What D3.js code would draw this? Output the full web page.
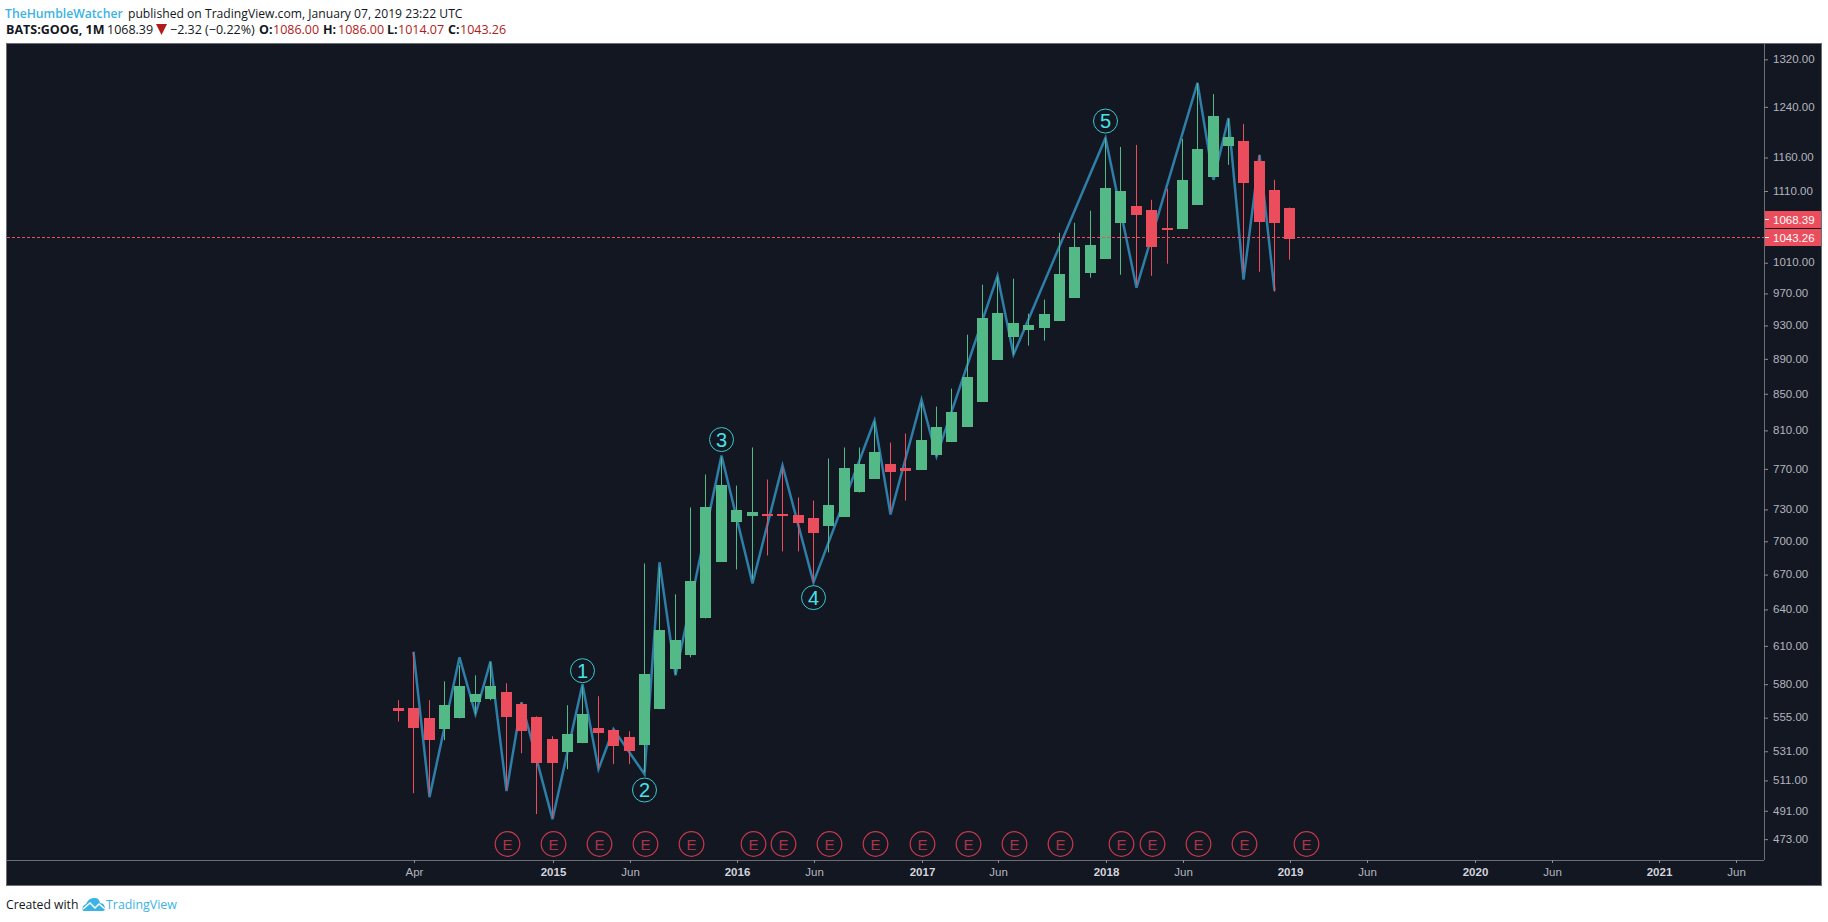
<!DOCTYPE html>
<html><head><meta charset="utf-8">
<style>
html,body{margin:0;padding:0;background:#fff}
svg{display:block}
text{font-family:"Open Sans",sans-serif}
.ax text{font-family:"Liberation Sans",Arial,sans-serif}
</style>
<script src="https://cdn.jsdelivr.net/npm/d3@7/dist/d3.min.js"></script>
</head><body><div id="c"></div>
<script>
const months=["2014-03","2014-04","2014-05","2014-06","2014-07","2014-08","2014-09","2014-10","2014-11","2014-12",
"2015-01","2015-02","2015-03","2015-04","2015-05","2015-06","2015-07","2015-08","2015-09","2015-10","2015-11","2015-12",
"2016-01","2016-02","2016-03","2016-04","2016-05","2016-06","2016-07","2016-08","2016-09","2016-10","2016-11","2016-12",
"2017-01","2017-02","2017-03","2017-04","2017-05","2017-06","2017-07","2017-08","2017-09","2017-10","2017-11","2017-12",
"2018-01","2018-02","2018-03","2018-04","2018-05","2018-06","2018-07","2018-08","2018-09","2018-10","2018-11","2018-12",
"2019-01","2019-02","2019-03","2019-04","2019-05","2019-06","2019-07","2019-08","2019-09","2019-10","2019-11","2019-12",
"2020-01","2020-02","2020-03","2020-04","2020-05","2020-06","2020-07","2020-08","2020-09","2020-10","2020-11","2020-12",
"2021-01","2021-02","2021-03","2021-04","2021-05","2021-06"];
const opens=[562,561.9,554.5,546.6,554.5,566.4,568.6,573.8,564.9,555.3,539.5,530.3,536.7,547.3,545.9,540.9,535.2,561.2,591.5,602.5,632.5,681.7,717.6,723.2,725.2,725.2,724.2,721.4,713.8,723.2,746.4,760.3,774.5,771.4,769.4,784.7,798.2,814.1,841.4,889.1,916.4,924.9,927.3,935.9,964.6,996.8,1015.3,1064.5,1088.6,1082.9,1057.6,1056.2,1090,1130.9,1177.9,1185.6,1154.9,1111.7,1086];
const highs=[567.9,604.8,567.9,582.2,594.6,586.8,597,580.7,566.4,556,541.6,564.2,578.4,570.9,546.6,545.2,679.9,676.4,652.8,731.9,764.3,781.6,753.3,792,759.3,771.4,741.6,738.6,780.6,792,792,819.5,797.1,806.7,840.3,835.8,855.8,918.8,981.2,991.6,989,944.5,962.1,1050.6,1064.5,1081.5,1190.3,1176.3,1179.4,1097.2,1113.2,1188.8,1279.6,1260.9,1220.4,1212.4,1163.9,1126.4,1086];
const lows=[552.3,502.5,501.9,538.8,554.5,557.5,567.9,505.2,529.6,488.9,486.3,518.6,536.7,519.3,522.1,522.1,516.6,561.2,587.6,600.9,632.5,681.7,674.6,665.8,687.1,690.8,690.8,663.2,689.9,723.2,746.4,760.3,728.1,738.6,769.4,782.7,798.2,814.1,841.4,889.1,895,905.6,911.6,935.9,964.6,990.3,1015.3,994.1,981.2,992.8,1008.7,1056.2,1090,1130.9,1148.8,996.8,998.1,972.3,1014.07];
const closes=[560,547.3,538.8,564.2,578.4,572.4,578.4,555.3,545.2,522.8,522.8,543,557.5,543.7,534.5,531,587.6,622.6,614.5,664.1,731.9,754.3,729,727.1,723.2,723.2,716.6,707.3,733.8,771.4,774.5,787.8,766.3,768.4,800.3,814.1,830.3,869.4,939.6,945.8,933.4,931,944.5,995.5,1031.5,1034.2,1114.6,1110.2,1075.8,1031.5,1054.8,1126.4,1173.2,1225.2,1191.9,1122,1065.9,1064.5,1043.26];
const waveMonths=["2014-04","2014-05","2014-07","2014-08","2014-09","2014-10","2014-11","2015-01","2015-03","2015-04","2015-05","2015-07","2015-08","2015-09","2015-12","2016-02","2016-04","2016-06","2016-10","2016-11","2017-01","2017-02","2017-06","2017-07","2018-01","2018-03","2018-07","2018-08","2018-09","2018-10","2018-11","2018-12"];
const waveValues=[605.3,499.9,600.9,557.5,597.7,503.9,566.4,485.6,579.9,518.6,546.6,515.2,681,586.8,783.7,662.3,773.5,663.2,820.6,725.2,843.6,782.7,992.8,895,1190.3,977.4,1279.6,1126.4,1221.7,987.7,1163.9,973.5];
const waveLabels=["1","2","3","4","5"];
const waveLabelMonths=["2015-03","2015-07","2015-12","2016-06","2018-01"];
const waveLabelPrices=[590.4,504.6,800.3,650,1217];
const earnings=["2014-10","2015-01","2015-04","2015-07","2015-10","2016-02","2016-04","2016-07","2016-10","2017-01","2017-04","2017-07","2017-10","2018-02","2018-04","2018-07","2018-10","2019-02"];
const priceTicks=[473,491,511,531,555,580,610,640,670,700,730,770,810,850,890,930,970,1010,1110,1160,1240,1320];
const timeTicks=["2014-04","2015-01","2015-06","2016-01","2016-06","2017-01","2017-06","2018-01","2018-06","2019-01","2019-06","2020-01","2020-06","2021-01","2021-06"];
const timeTickLabels=["Apr","2015","Jun","2016","Jun","2017","Jun","2018","Jun","2019","Jun","2020","Jun","2021","Jun"];
const lastPrice=1043.26, prevPrice=1068.39;

const W=1828,H=922,L=6,R=1821,T=43,B=885,AX=1764,AY=860;
const GREEN="#53b987",RED="#eb4d5c",BLUE="#3bb3e4",DARKRED="#b01c1c";
const svg=d3.select("#c").append("svg").attr("width",W).attr("height",H);
svg.append("rect").attr("x",L+.5).attr("y",T+.5).attr("width",R-L).attr("height",B-T).attr("fill","#131722").attr("stroke","#6b6e74");

const x0=d3.scalePoint().domain(months).range([398,398+15.37*(months.length-1)]);
const x=m=>Math.round(x0(m));
const y=d3.scaleLog().domain([1346.9,460.2]).range([T+1,AY]);

// wave line
svg.append("path").datum(waveMonths.map((m,i)=>[m,waveValues[i]]))
 .attr("fill","none").attr("stroke","#2e7ea8").attr("stroke-width",2.5).attr("stroke-linejoin","miter")
 .attr("d",d3.line().x(d=>x(d[0])+.5).y(d=>y(d[1])));

// candles
const rows=opens.map((o,i)=>({m:months[i],o,h:highs[i],l:lows[i],c:closes[i]}));
const col=d=>d.c>=d.o?GREEN:RED;
const g=svg.append("g");
g.selectAll(".w").data(rows).join("rect").attr("x",d=>x(d.m)).attr("width",1)
 .attr("y",d=>y(d.h)).attr("height",d=>y(d.l)-y(d.h)).attr("fill",col);
g.selectAll(".b").data(rows).join("rect").attr("x",d=>x(d.m)-5).attr("width",11)
 .attr("y",d=>Math.round(y(Math.max(d.o,d.c))))
 .attr("height",d=>Math.max(2,Math.round(y(Math.min(d.o,d.c))-y(Math.max(d.o,d.c))))).attr("fill",col);

// last price line
svg.append("line").attr("x1",L+1).attr("x2",AX).attr("y1",Math.floor(y(lastPrice))-.5).attr("y2",Math.floor(y(lastPrice))-.5)
 .attr("stroke",RED).attr("stroke-dasharray","3 2");

// wave labels
const wl=svg.append("g").selectAll("g").data(waveLabels).join("g")
 .attr("transform",(d,i)=>`translate(${x(waveLabelMonths[i])+.5},${y(waveLabelPrices[i])})`);
wl.append("circle").attr("r",12).attr("fill","none").attr("stroke","#35c9d0").attr("stroke-width",1);
wl.append("text").text(d=>d).attr("text-anchor","middle").attr("y",7).attr("fill","#45e3ea")
 .style("font-family",'"Liberation Sans",sans-serif').style("font-size","20px");

// earnings
const eg=svg.append("g").selectAll("g").data(earnings).join("g")
 .attr("transform",d=>`translate(${x(d)+1.5},844)`);
eg.append("circle").attr("r",12.3).attr("fill","none").attr("stroke","#c8384a").attr("stroke-width",1.2);
eg.append("text").text("E").attr("text-anchor","middle").attr("y",5.5).attr("fill","#a83448")
 .style("font-family",'"Liberation Sans",sans-serif').style("font-size","15px");

// axes
const ya=svg.append("g").attr("class","ax").attr("transform",`translate(${AX},0)`)
 .call(d3.axisRight(y).tickValues(priceTicks).tickSize(4).tickPadding(5).tickFormat(d3.format(".2f")));
ya.select(".domain").attr("stroke","#6b6e74").attr("d",`M0.5,${T}V${AY}`);
ya.selectAll("line").attr("stroke","#8a8d93");
ya.selectAll("text").attr("fill","#b2b5be").attr("dy","0.28em").style("font-size","11.5px");

const xa=svg.append("g").attr("class","ax").attr("transform",`translate(0,${AY})`)
 .call(d3.axisBottom(d3.scaleOrdinal().domain(timeTicks).range(timeTicks.map(m=>x(m)+1))).tickValues(timeTicks)
 .tickSize(3).tickPadding(5).tickFormat((d,i)=>timeTickLabels[i]));
xa.select(".domain").attr("stroke","#6b6e74").attr("d",`M${L},0.5H${AX}`);
xa.selectAll("line").attr("stroke","#8a8d93");
xa.selectAll("text").attr("fill",(d,i)=>/^\d/.test(timeTickLabels[i])?"#d1d4dc":"#b2b5be")
 .attr("font-weight",(d,i)=>/^\d/.test(timeTickLabels[i])?"bold":"normal").style("font-size","11.5px");

// price tags
[prevPrice,lastPrice].forEach((p,i)=>{
 const yc=i==0?219.5:237.5;
 svg.append("rect").attr("x",AX+1).attr("y",yc-8.5).attr("width",R-AX-1).attr("height",17).attr("fill",RED);
 svg.append("rect").attr("x",AX+1).attr("y",Math.round(yc)-1).attr("width",4).attr("height",1).attr("fill","#fff");
 svg.append("text").attr("x",AX+9).attr("y",yc+4).text(p.toFixed(2)).attr("fill","#fff")
  .style("font-family",'"Liberation Sans",sans-serif').style("font-size","11.5px");
});
svg.append("rect").attr("x",AX+1).attr("y",228).attr("width",R-AX-1).attr("height",1).attr("fill","#131722");

// header
function t(s,xp,yp,fill,w,fs){return svg.append("text").attr("x",xp).attr("y",yp).text(s).attr("fill",fill)
 .attr("font-weight",w||"normal").style("font-size",(fs||12.5)+"px");}
t("TheHumbleWatcher",5,17.5,BLUE,600,12.2);
t("published on TradingView.com, January 07, 2019 23:22 UTC",128,17.5,"#131722","normal",12.15);
const Y2=33.5;
t("BATS:GOOG, 1M",6,Y2,"#131722",700);
t("1068.39",107,Y2,"#131722");
svg.append("path").attr("d","M156,24H167L161.5,35Z").attr("fill",DARKRED);
t("−2.32 (−0.22%)",170,Y2,"#131722");
[["O:","1086.00",259,273],["H:","1086.00",323,338],["L:","1014.07",387,398],["C:","1043.26",448,460]].forEach(a=>{
 t(a[0],a[2],Y2,"#131722",700); t(a[1],a[3],Y2,DARKRED);
});
// footer
t("Created with",6,909,"#131722","normal",12.2);
svg.append("path").attr("fill",BLUE)
 .attr("d","M83,911Q81,906 86,904Q89,897 95,898Q99,898 100,903Q105,903 105,909Q105,911 103,911Z");
svg.append("path").attr("fill","none").attr("stroke","#fff").attr("stroke-width",1.5)
 .attr("d","M83,909L90,903L95,908L99,904L105,909");
t("TradingView",106,909,BLUE,"normal",12.4);
</script></body></html>
